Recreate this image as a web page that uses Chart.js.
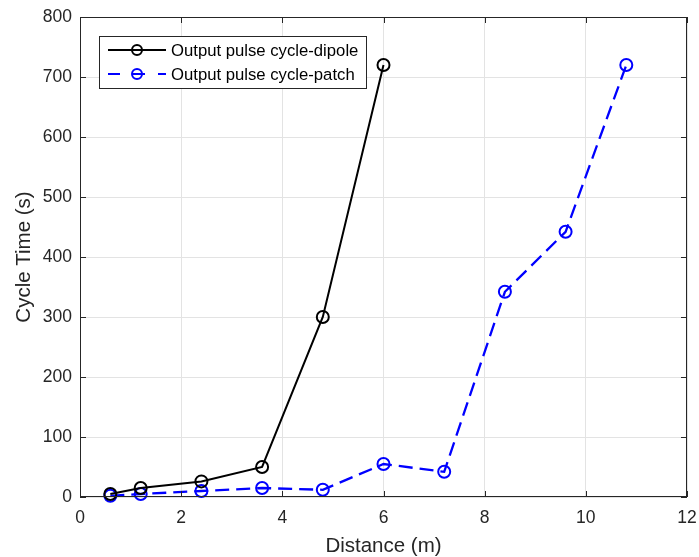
<!DOCTYPE html>
<html>
<head>
<meta charset="utf-8">
<script src="https://cdn.jsdelivr.net/npm/chart.js@4.4.0/dist/chart.umd.min.js"></script>
<style>
  html, body { margin: 0; padding: 0; background: #fff; }
  #wrap { width: 699px; height: 557px; }
</style>
</head>
<body>
<div id="wrap"><canvas id="myChart" width="699" height="557"></canvas></div>
<script>
const dipoleX = [0.6, 1.2, 2.4, 3.6, 4.8, 6.0];
const dipoleY = [5, 15, 26, 50, 300, 720];
const patchX = [0.6, 1.2, 2.4, 3.6, 4.8, 6.0, 7.2, 8.4, 9.6, 10.8];
const patchY = [2, 5, 10, 15, 12, 55, 42, 342, 442, 720];
const seriesNames = ['Output pulse cycle-dipole', 'Output pulse cycle-patch'];
const xTicks = [0, 2, 4, 6, 8, 10, 12];
const yTicks = [0, 100, 200, 300, 400, 500, 600, 700, 800];

const ctx = document.getElementById('myChart');
const axisColor = '#262626';
const font = 'Liberation Sans, Arial, Helvetica, sans-serif';

const toPts = (xs, ys) => xs.map((x, i) => ({ x: x, y: ys[i] }));

// box, inner ticks and legend drawn like the matlab figure
const boxPlugin = {
    id: 'box',
    afterDraw(chart) {
        const c = chart.ctx;
        const a = chart.chartArea;
        const sx = chart.scales.x, sy = chart.scales.y;
        c.save();
        c.strokeStyle = axisColor;
        c.lineWidth = 1;
        c.strokeRect(a.left + 0.5, a.top + 0.5, a.right - a.left - 1, a.bottom - a.top - 1);
        c.beginPath();
        xTicks.forEach(t => {
            const px = Math.round(sx.getPixelForValue(t)) + 0.5;
            c.moveTo(px, a.bottom); c.lineTo(px, a.bottom - 6);
            c.moveTo(px, a.top); c.lineTo(px, a.top + 6);
        });
        yTicks.forEach(t => {
            const py = Math.round(sy.getPixelForValue(t)) + 0.5;
            c.moveTo(a.left, py); c.lineTo(a.left + 6, py);
            c.moveTo(a.right, py); c.lineTo(a.right - 6, py);
        });
        c.stroke();

        // legend
        const lx = 99, ly = 36, lw = 267, lh = 52;
        c.fillStyle = '#fff';
        c.fillRect(lx, ly, lw, lh);
        c.strokeStyle = axisColor;
        c.strokeRect(lx + 0.5, ly + 0.5, lw, lh);
        chart.data.datasets.forEach((ds, i) => {
            const yy = ly + 14 + i * 24;
            c.strokeStyle = ds.borderColor;
            c.lineWidth = 2;
            c.setLineDash(ds.borderDash ? [12, 13] : []);
            c.beginPath();
            c.moveTo(lx + 9, yy); c.lineTo(lx + 67, yy);
            c.stroke();
            c.setLineDash([]);
            c.beginPath();
            c.arc(lx + 38, yy, 5, 0, Math.PI * 2);
            c.stroke();
            c.fillStyle = '#000';
            c.font = '16.7px ' + font;
            c.textBaseline = 'middle';
            c.fillText(ds.label, lx + 72, yy + 1);
        });
        c.restore();
    }
};

new Chart(ctx, {
    type: 'scatter',
    data: {
        datasets: [{
            label: seriesNames[0],
            data: toPts(dipoleX, dipoleY),
            showLine: true,
            borderColor: '#000000',
            backgroundColor: 'rgba(0,0,0,0)',
            borderWidth: 2,
            pointRadius: 6,
            pointBorderWidth: 2,
            pointBackgroundColor: 'rgba(0,0,0,0)'
        }, {
            label: seriesNames[1],
            data: toPts(patchX, patchY),
            showLine: true,
            borderColor: '#0000ff',
            backgroundColor: 'rgba(0,0,0,0)',
            borderWidth: 2.3,
            borderDash: [14, 7],
            pointRadius: 6,
            pointBorderWidth: 2,
            pointBackgroundColor: 'rgba(0,0,0,0)'
        }]
    },
    options: {
        responsive: false,
        animation: false,
        clip: false,
        layout: {
            padding: { top: 17, right: 12, left: 0, bottom: 0 }
        },
        plugins: {
            legend: { display: false },
            tooltip: { enabled: false }
        },
        scales: {
            x: {
                type: 'linear',
                min: 0,
                max: 12,
                afterBuildTicks: s => { s.ticks = xTicks.map(v => ({ value: v })); },
                afterFit: s => { s.height = 60; s.paddingRight = 0; s.paddingLeft = 0; },
                grid: { color: '#e3e3e3', drawTicks: false },
                border: { display: false },
                ticks: { color: axisColor, padding: 11, font: { family: font, size: 17.5 } },
                title: {
                    display: true,
                    text: 'Distance (m)',
                    color: axisColor,
                    font: { family: font, size: 20.5, lineHeight: 1 },
                    padding: { top: 0, bottom: 0 }
                }
            },
            y: {
                min: 0,
                max: 800,
                afterBuildTicks: s => { s.ticks = yTicks.map(v => ({ value: v })); },
                afterFit: s => { s.width = 80; s.paddingTop = 0; s.paddingBottom = 0; },
                grid: { color: '#e3e3e3', drawTicks: false },
                border: { display: false },
                ticks: { color: axisColor, padding: 8, font: { family: font, size: 17.5 } },
                title: {
                    display: true,
                    text: 'Cycle Time (s)',
                    color: axisColor,
                    font: { family: font, size: 20.5, lineHeight: 1 },
                    padding: { top: 14, bottom: 0 }
                }
            }
        }
    },
    plugins: [boxPlugin]
});
</script>
</body>
</html>
